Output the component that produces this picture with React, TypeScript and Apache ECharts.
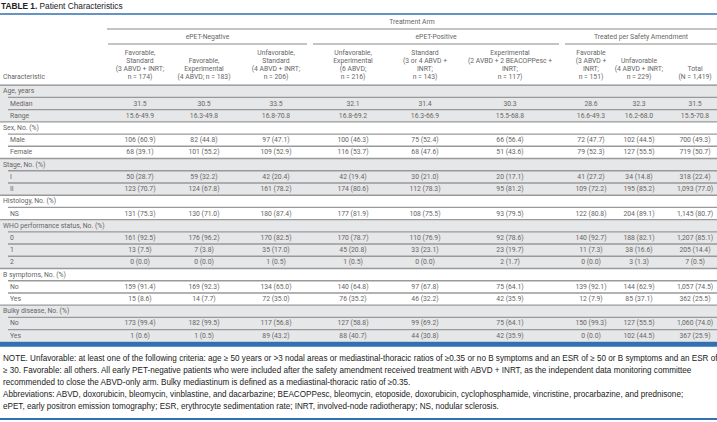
import React, { useEffect, useRef } from "react";
import * as echarts from "echarts";

const titleBold = "TABLE 1.";
const titleText = "Patient Characteristics";
const spannerLabel = "Treatment Arm";
const armGroups = ["ePET-Negative", "ePET-Positive", "Treated per Safety Amendment"];
const stubHeader = "Characteristic";

const columnHeaders: string[][] = [
  ["Favorable,", "Standard", "(3 ABVD + INRT;", "n = 174)"],
  ["Favorable,", "Experimental", "(4 ABVD; n = 183)"],
  ["Unfavorable,", "Standard", "(4 ABVD + INRT;", "n = 206)"],
  ["Unfavorable,", "Experimental", "(6 ABVD;", "n = 216)"],
  ["Standard", "(3 or 4 ABVD +", "INRT;", "n = 143)"],
  ["Experimental", "(2 AVBD + 2 BEACOPPesc +", "INRT;", "n = 117)"],
  ["Favorable", "(3 ABVD +", "INRT;", "n = 151)"],
  ["Unfavorable", "(4 ABVD + INRT;", "n = 229)"],
  ["Total", "(N = 1,419)"],
];

const sectionLabels = [
  "Age, years",
  "Sex, No. (%)",
  "Stage, No. (%)",
  "Histology, No. (%)",
  "WHO performance status, No. (%)",
  "B symptoms, No. (%)",
  "Bulky disease, No. (%)",
];
const sectionRowLabels: string[][] = [
  ["Median", "Range"],
  ["Male", "Female"],
  ["I", "II"],
  ["NS"],
  ["0", "1", "2"],
  ["No", "Yes"],
  ["No", "Yes"],
];

const ageMedian = ["31.5", "30.5", "33.5", "32.1", "31.4", "30.3", "28.6", "32.3", "31.5"];
const ageRange = ["15.6-49.9", "16.3-49.8", "16.8-70.8", "16.8-69.2", "16.3-66.9", "15.5-68.8", "16.6-49.3", "16.2-68.0", "15.5-70.8"];
const sexMale = ["106 (60.9)", "82 (44.8)", "97 (47.1)", "100 (46.3)", "75 (52.4)", "66 (56.4)", "72 (47.7)", "102 (44.5)", "700 (49.3)"];
const sexFemale = ["68 (39.1)", "101 (55.2)", "109 (52.9)", "116 (53.7)", "68 (47.6)", "51 (43.6)", "79 (52.3)", "127 (55.5)", "719 (50.7)"];
const stageI = ["50 (28.7)", "59 (32.2)", "42 (20.4)", "42 (19.4)", "30 (21.0)", "20 (17.1)", "41 (27.2)", "34 (14.8)", "318 (22.4)"];
const stageII = ["123 (70.7)", "124 (67.8)", "161 (78.2)", "174 (80.6)", "112 (78.3)", "95 (81.2)", "109 (72.2)", "195 (85.2)", "1,093 (77.0)"];
const histNS = ["131 (75.3)", "130 (71.0)", "180 (87.4)", "177 (81.9)", "108 (75.5)", "93 (79.5)", "122 (80.8)", "204 (89.1)", "1,145 (80.7)"];
const who0 = ["161 (92.5)", "176 (96.2)", "170 (82.5)", "170 (78.7)", "110 (76.9)", "92 (78.6)", "140 (92.7)", "188 (82.1)", "1,207 (85.1)"];
const who1 = ["13 (7.5)", "7 (3.8)", "35 (17.0)", "45 (20.8)", "33 (23.1)", "23 (19.7)", "11 (7.3)", "38 (16.6)", "205 (14.4)"];
const who2 = ["0 (0.0)", "0 (0.0)", "1 (0.5)", "1 (0.5)", "0 (0.0)", "2 (1.7)", "0 (0.0)", "3 (1.3)", "7 (0.5)"];
const bNo = ["159 (91.4)", "169 (92.3)", "134 (65.0)", "140 (64.8)", "97 (67.8)", "75 (64.1)", "139 (92.1)", "144 (62.9)", "1,057 (74.5)"];
const bYes = ["15 (8.6)", "14 (7.7)", "72 (35.0)", "76 (35.2)", "46 (32.2)", "42 (35.9)", "12 (7.9)", "85 (37.1)", "362 (25.5)"];
const bulkyNo = ["173 (99.4)", "182 (99.5)", "117 (56.8)", "127 (58.8)", "99 (69.2)", "75 (64.1)", "150 (99.3)", "127 (55.5)", "1,060 (74.0)"];
const bulkyYes = ["1 (0.6)", "1 (0.5)", "89 (43.2)", "88 (40.7)", "44 (30.8)", "42 (35.9)", "0 (0.0)", "102 (44.5)", "367 (25.9)"];

const sectionValues: string[][][] = [
  [ageMedian, ageRange],
  [sexMale, sexFemale],
  [stageI, stageII],
  [histNS],
  [who0, who1, who2],
  [bNo, bYes],
  [bulkyNo, bulkyYes],
];

const notes = [
  "NOTE. Unfavorable: at least one of the following criteria: age \u2265 50 years or >3 nodal areas or mediastinal-thoracic ratios of \u22650.35 or no B symptoms and an ESR of \u2265 50 or B symptoms and an ESR of",
  "\u2265 30. Favorable: all others. All early PET-negative patients who were included after the safety amendment received treatment with ABVD + INRT, as the independent data monitoring committee",
  "recommended to close the ABVD-only arm. Bulky mediastinum is defined as a mediastinal-thoracic ratio of \u22650.35.",
  "Abbreviations: ABVD, doxorubicin, bleomycin, vinblastine, and dacarbazine; BEACOPPesc, bleomycin, etoposide, doxorubicin, cyclophosphamide, vincristine, procarbazine, and prednisone;",
  "ePET, early positron emission tomography; ESR, erythrocyte sedimentation rate; INRT, involved-node radiotherapy; NS, nodular sclerosis.",
];

// layout
const W = 717;
const colX = [140, 204, 276, 353, 425, 510, 591, 639, 695];
const groupSpans = [[108, 307], [313, 559], [565, 717]];
const headerLineY = [53, 61, 69, 77];
const rowTop0 = 85.2;
const rowH = 12.22;
const BLUE = "#3271b1";
const GRAY_BG = "#e6e7e8";
const LINE = "#999999";
const TXT = "#666666";
const FONT = "Roboto, 'Noto Sans', sans-serif";
const NOTE_FONT = "'Liberation Sans', Arial, sans-serif";
const FS = 6.8;

function txt(x: number, y: number, text: string, opts: any = {}) {
  const align = opts.align || "left";
  return {
    type: "text",
    x,
    y,
    silent: true,
    style: {
      text,
      fill: opts.fill || TXT,
      fontSize: opts.fontSize || FS,
      fontFamily: opts.fontFamily || FONT,
      fontWeight: opts.fontWeight || "normal",
      align,
      textAlign: align,
      verticalAlign: "middle",
      textVerticalAlign: "middle",
      rich: opts.rich,
    },
  };
}
function line(x1: number, y1: number, x2: number, y2: number, stroke: string, w: number) {
  return { type: "line", silent: true, shape: { x1, y1, x2, y2 }, style: { stroke, lineWidth: w } };
}
function rect(x: number, y: number, w: number, h: number, fill: string) {
  return { type: "rect", silent: true, shape: { x, y, width: w, height: h }, style: { fill } };
}

function buildElements() {
  const els: any[] = [];
  // title
  els.push(
    txt(1, 5.5, `{b|${titleBold}} ${titleText}`, {
      fontSize: 8.3,
      fontFamily: NOTE_FONT,
      fontWeight: "normal",
      fill: "#222",
      rich: { b: { fontWeight: "bold", fontSize: 8.3, fontFamily: NOTE_FONT, fill: "#222" } },
    })
  );
  els.push(line(0, 14, W, 14, BLUE, 1.6));
  // spanner
  els.push(txt(412, 22, spannerLabel, { align: "center" }));
  els.push(line(107, 29, W, 29, "#8a8a8a", 1.2));
  armGroups.forEach((g, i) => {
    const [a, b] = groupSpans[i];
    els.push(txt((a + b) / 2, 37, g, { align: "center" }));
    els.push(line(a, 44, b, 44, "#8a8a8a", 1.2));
  });
  // column headers (bottom aligned)
  columnHeaders.forEach((lines, c) => {
    const off = headerLineY.length - lines.length;
    lines.forEach((l, k) => {
      els.push(txt(colX[c], headerLineY[off + k], l, { align: "center" }));
    });
  });
  els.push(txt(3, headerLineY[3], stubHeader));

  // body
  let r = 0;
  const bodyEls: any[] = [];
  const lineEls: any[] = [];
  sectionLabels.forEach((label, s) => {
    const rows = sectionRowLabels[s];
    const nRows = rows.length + 1;
    const top = rowTop0 + r * rowH;
    if (s % 2 === 0) els.push(rect(0, top, W, nRows * rowH, GRAY_BG));
    bodyEls.push(txt(3, top + rowH / 2, label));
    for (let k = 0; k < rows.length; k++) {
      const y = top + (k + 1) * rowH;
      lineEls.push(line(8, y, W, y, LINE, 1.4));
      bodyEls.push(txt(10, y + rowH / 2, rows[k]));
      sectionValues[s][k].forEach((v, c) => {
        bodyEls.push(txt(colX[c], y + rowH / 2, v, { align: "center" }));
      });
    }
    r += nRows;
    if (s < sectionLabels.length - 1) {
      const yb = rowTop0 + r * rowH;
      lineEls.push(line(0, yb, W, yb, LINE, 1.4));
    }
  });
  els.push(...lineEls);
  els.push(line(0, rowTop0, W, rowTop0, "#8a8a8a", 1.3));
  els.push(...bodyEls);
  const bottom = rowTop0 + r * rowH;
  els.push(rect(0, bottom, W, 5, BLUE));

  // notes
  notes.forEach((n, i) => {
    els.push(
      txt(3, 358 + i * 12, n, { fontSize: 8.15, fontFamily: NOTE_FONT, fontWeight: "normal", fill: "#222" })
    );
  });
  els.push(line(0, 419, W, 419, BLUE, 2));
  return els;
}

export default function App() {
  const ref = useRef<HTMLDivElement>(null);
  useEffect(() => {
    if (!ref.current) return;
    const chart = echarts.init(ref.current, undefined, { renderer: "svg" });
    chart.setOption({
      animation: false,
      backgroundColor: "#ffffff",
      graphic: { elements: buildElements() },
    });
    return () => chart.dispose();
  }, []);
  return (
    <div
      ref={ref}
      style={{ position: "fixed", left: 0, top: 0, width: 717, height: 422, background: "#fff" }}
    />
  );
}
